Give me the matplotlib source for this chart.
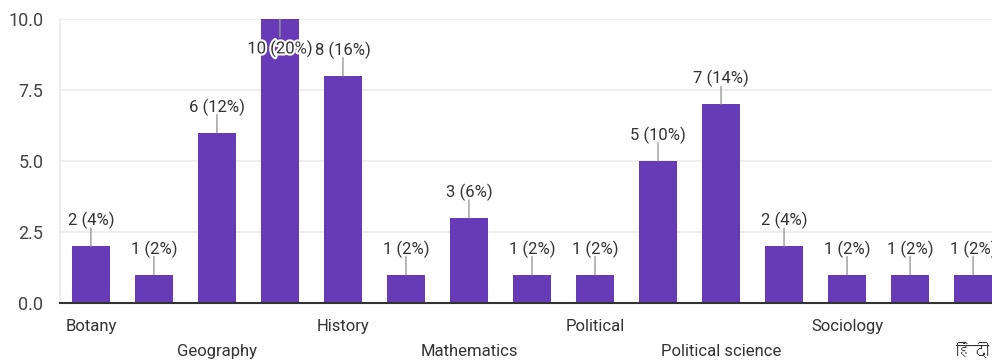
import matplotlib
matplotlib.use("Agg")
import matplotlib.pyplot as plt
from matplotlib import font_manager
import matplotlib.patheffects as pe

# ---- data ----
categories = ["Botany", "", "Geography", "", "History", "", "Mathematics", "",
              "Political", "", "Political science", "", "Sociology", "", "हिंदी"]
values = [2, 1, 6, 10, 8, 1, 3, 1, 1, 5, 7, 2, 1, 1, 1]
yticks = [0.0, 2.5, 5.0, 7.5, 10.0]
total = sum(values)

# find a font with Devanagari glyphs for fallback
deva = []
try:
    from matplotlib.ft2font import FT2Font
    for f in font_manager.fontManager.ttflist:
        try:
            cm = FT2Font(f.fname).get_charmap()
            if 0x0939 in cm and f.name not in deva:
                deva.append(f.name)
        except Exception:
            pass
except Exception:
    pass

families = ["Roboto"] + deva[:1] + ["DejaVu Sans"]
plt.rcParams["font.family"] = families

BAR = "#673ab7"
TXT = "#333333"

fig = plt.figure(figsize=(9.92, 3.63), dpi=100)
ax = fig.add_axes([60 / 992, 1 - 303 / 363, 1 - 60 / 992, (303 - 19) / 363])

x = list(range(len(values)))
ax.bar(x, values, width=0.6, color=BAR, zorder=2)
ax.set_xlim(-0.49, 14.3)
ax.set_ylim(0, 10)
ax.set_yticks(yticks)
ax.set_yticklabels([f"{t:.1f}" for t in yticks], fontsize=13, color="#444444")
ax.yaxis.grid(True, color="#ebebeb", lw=1.2, zorder=0)
ax.tick_params(axis="y", length=0, pad=12)
ax.tick_params(axis="x", length=0)
for s in ["top", "right"]:
    ax.spines[s].set_visible(False)
ax.spines["left"].set_color("#ebebeb")
ax.spines["left"].set_linewidth(1.2)
ax.spines["bottom"].set_color("#333333")
ax.spines["bottom"].set_linewidth(1.5)
ax.spines["bottom"].set_zorder(3)
ax.set_xticks([])

# value annotations
for xi, v in zip(x, values):
    lab = f"{v} ({v / total * 100:.0f}%)"
    if v >= ax.get_ylim()[1]:
        ax.annotate("", xy=(xi, v), xytext=(0, -18), textcoords="offset pixels",
                    arrowprops=dict(arrowstyle="-", color="#999999", lw=1,
                                    shrinkA=0, shrinkB=0), zorder=4)
        t = ax.annotate(lab, xy=(xi, v), xytext=(0, -21), textcoords="offset pixels",
                        ha="center", va="top", fontsize=12, color=TXT, zorder=5)
        t.set_path_effects([pe.withStroke(linewidth=3, foreground="white")])
    else:
        ax.annotate("", xy=(xi, v), xytext=(0, 18), textcoords="offset pixels",
                    arrowprops=dict(arrowstyle="-", color="#999999", lw=1,
                                    shrinkA=0, shrinkB=0), zorder=4)
        ax.annotate(lab, xy=(xi, v), xytext=(0, 17), textcoords="offset pixels",
                    ha="center", va="bottom", fontsize=12, color=TXT, zorder=5)

# staggered category labels
for xi, c in zip(x, categories):
    if not c:
        continue
    row = 0 if (xi // 2) % 2 == 0 else 1
    dy = -16 - 25 * row
    ax.annotate(c, xy=(xi, 0), xytext=(0, dy), textcoords="offset pixels",
                ha="center", va="top", fontsize=12, color=TXT,
                annotation_clip=False)

fig.savefig("out.png", dpi=100)
